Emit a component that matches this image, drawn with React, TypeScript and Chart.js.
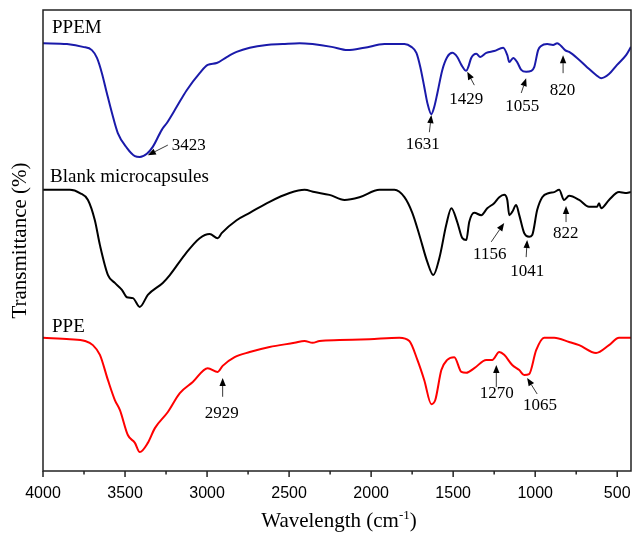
import React, { useEffect, useRef } from 'react';
import { Chart, registerables } from 'chart.js';

Chart.register(...registerables);

// ---- Axis ----
const xMax = 4000;
const xMin = 416;
const majorTicks = [4000, 3500, 3000, 2500, 2000, 1500, 1000, 500];
const minorTicks = [3750, 3250, 2750, 2250, 1750, 1250, 750];

// ---- PPEM (blue) ----
const ppemWn = [4000, 3854, 3757, 3702, 3671, 3641, 3611, 3580, 3544, 3489, 3440, 3410, 3367, 3331, 3276, 3245, 3185, 3124, 3045, 2996, 2941, 2880, 2820, 2740, 2637, 2540, 2436, 2357, 2241, 2144, 2041, 1919, 1797, 1755, 1724, 1700, 1676, 1657, 1633, 1615, 1596, 1566, 1536, 1505, 1475, 1450, 1420, 1408, 1390, 1359, 1335, 1298, 1250, 1195, 1170, 1158, 1134, 1110, 1085, 1055, 1024, 1006, 982, 964, 927, 891, 866, 842, 818, 793, 745, 684, 629, 598, 550, 501, 446, 416];
const ppemT = [92.8, 92.6, 92.0, 91.3, 89.6, 86.3, 82.0, 77.7, 73.3, 70.1, 68.3, 68.1, 68.8, 70.3, 74.0, 75.5, 79.0, 82.6, 86.3, 88.1, 88.5, 89.8, 90.9, 91.8, 92.4, 92.6, 92.8, 92.6, 92.0, 91.3, 91.8, 92.6, 92.6, 92.0, 90.7, 87.6, 83.3, 79.8, 77.4, 79.0, 82.0, 87.0, 89.8, 90.7, 89.8, 88.1, 86.8, 87.6, 89.6, 90.5, 89.8, 90.7, 91.1, 91.8, 90.2, 88.7, 89.6, 88.7, 87.0, 86.6, 86.8, 87.6, 91.3, 92.2, 92.6, 92.4, 92.8, 92.2, 91.3, 90.9, 89.6, 87.6, 85.9, 85.2, 86.1, 88.1, 90.2, 92.0];

// ---- Blank microcapsules (black) ----
const blankWn = [4000, 3836, 3775, 3726, 3684, 3653, 3604, 3562, 3519, 3489, 3452, 3410, 3361, 3270, 3227, 3136, 3045, 2984, 2935, 2911, 2820, 2740, 2619, 2497, 2406, 2345, 2254, 2162, 2071, 1949, 1858, 1797, 1749, 1706, 1657, 1621, 1584, 1542, 1511, 1475, 1444, 1420, 1402, 1371, 1329, 1292, 1250, 1219, 1189, 1170, 1158, 1140, 1116, 1097, 1067, 1037, 1018, 988, 957, 915, 884, 854, 824, 793, 732, 672, 623, 611, 598, 550, 489, 452, 416];
const blankT = [61.0, 61.0, 60.3, 58.8, 54.4, 49.0, 42.5, 40.8, 39.3, 37.7, 37.5, 35.6, 38.2, 40.8, 42.5, 46.9, 50.5, 51.4, 50.5, 51.6, 54.4, 56.0, 58.4, 60.3, 61.0, 60.5, 59.9, 58.8, 59.4, 61.0, 61.0, 59.4, 56.0, 51.2, 45.3, 42.5, 46.2, 53.4, 57.0, 54.0, 50.5, 50.1, 54.0, 56.0, 55.5, 57.0, 58.1, 59.4, 59.9, 58.8, 55.5, 56.2, 57.7, 55.5, 51.6, 50.8, 51.2, 56.6, 59.4, 60.3, 60.5, 61.0, 58.8, 59.7, 58.8, 57.3, 57.3, 58.1, 57.0, 58.8, 60.5, 60.3, 60.5];

// ---- PPE (red) ----
const ppeWn = [4000, 3836, 3744, 3696, 3653, 3604, 3562, 3531, 3483, 3440, 3410, 3361, 3318, 3239, 3166, 3087, 2996, 2935, 2905, 2832, 2740, 2619, 2467, 2406, 2357, 2314, 2193, 2010, 1828, 1767, 1718, 1676, 1633, 1609, 1572, 1536, 1493, 1450, 1420, 1371, 1298, 1262, 1219, 1189, 1140, 1097, 1067, 1037, 994, 945, 884, 793, 732, 629, 550, 489, 416];
const ppeT = [28.9, 28.6, 28.2, 27.3, 25.2, 19.7, 15.4, 13.2, 7.8, 6.1, 4.1, 6.1, 9.3, 12.8, 16.9, 19.3, 22.3, 21.5, 22.8, 24.7, 25.8, 26.9, 27.8, 28.2, 27.8, 28.2, 28.4, 28.6, 28.9, 28.2, 24.1, 19.7, 14.5, 15.4, 21.9, 24.1, 24.7, 21.5, 21.3, 22.3, 24.1, 24.1, 25.8, 25.2, 23.0, 21.9, 20.8, 21.0, 26.2, 28.9, 28.9, 28.0, 27.3, 25.6, 27.3, 28.9, 28.9];

// ---- Series labels ----
const seriesLabels = ['PPEM', 'Blank microcapsules', 'PPE'];
const seriesLabelWn = [3945, 3957, 3945];
const seriesLabelT = [95.0, 62.7, 30.2];

// ---- Peak annotations ----
const peakLabels = ['3423', '1631', '1429', '1055', '820', '1156', '1041', '822', '2929', '1270', '1065'];
const peakTextWn = [3112, 1685, 1420, 1079, 833, 1277, 1049, 814, 2911, 1234, 970];
const peakTextT = [69.6, 69.8, 79.6, 78.1, 81.6, 46.0, 42.3, 50.5, 11.5, 15.8, 13.2];
const arrowTailWn = [3239, 1645, 1371, 1085, 830, 1268, 1055, 812, 2905, 1237, 988];
const arrowTailT = [70.7, 73.5, 83.7, 82.0, 86.3, 49.7, 46.4, 54.0, 16.1, 18.2, 16.7];
const arrowTipWn = [3361, 1633, 1414, 1055, 830, 1189, 1049, 812, 2905, 1237, 1049];
const arrowTipT = [68.5, 77.2, 86.6, 85.2, 90.2, 53.8, 50.1, 57.5, 20.2, 23.0, 20.2];

const SERIF = '"Liberation Serif", "Times New Roman", serif';
const SANS = '"Liberation Sans", Arial, sans-serif';

const toPoints = (xs: number[], ys: number[]) => xs.map((v, i) => ({ x: v, y: ys[i] }));

const decorPlugin = {
  id: 'ftirDecor',
  afterDatasetsDraw(chart: any) {
    const { ctx, chartArea } = chart;
    const xs = chart.scales.x;
    const ys = chart.scales.y;
    ctx.save();

    // frame
    ctx.strokeStyle = '#222';
    ctx.lineWidth = 1.5;
    ctx.strokeRect(chartArea.left, chartArea.top, chartArea.right - chartArea.left, chartArea.bottom - chartArea.top);

    // ticks
    ctx.lineWidth = 1.5;
    const drawTick = (v: number, len: number) => {
      const px = xs.getPixelForValue(v);
      ctx.beginPath();
      ctx.moveTo(px, chartArea.bottom);
      ctx.lineTo(px, chartArea.bottom + len);
      ctx.stroke();
    };
    majorTicks.forEach((v) => drawTick(v, 6));
    minorTicks.forEach((v) => drawTick(v, 3.5));

    // series labels
    ctx.fillStyle = '#000';
    ctx.textBaseline = 'alphabetic';
    ctx.textAlign = 'left';
    ctx.font = `19px ${SERIF}`;
    seriesLabels.forEach((t, i) => {
      ctx.fillText(t, xs.getPixelForValue(seriesLabelWn[i]), ys.getPixelForValue(seriesLabelT[i]));
    });

    // peak labels
    ctx.font = `17px ${SERIF}`;
    ctx.textAlign = 'center';
    peakLabels.forEach((t, i) => {
      ctx.fillText(t, xs.getPixelForValue(peakTextWn[i]), ys.getPixelForValue(peakTextT[i]));
    });

    // arrows
    ctx.strokeStyle = '#222';
    ctx.fillStyle = '#000';
    ctx.lineWidth = 0.9;
    peakLabels.forEach((_, i) => {
      const x0 = xs.getPixelForValue(arrowTailWn[i]);
      const y0 = ys.getPixelForValue(arrowTailT[i]);
      const x1 = xs.getPixelForValue(arrowTipWn[i]);
      const y1 = ys.getPixelForValue(arrowTipT[i]);
      const ang = Math.atan2(y1 - y0, x1 - x0);
      const hl = 8;
      const hw = 3.2;
      const bx = x1 - hl * Math.cos(ang);
      const by = y1 - hl * Math.sin(ang);
      ctx.beginPath();
      ctx.moveTo(x0, y0);
      ctx.lineTo(bx, by);
      ctx.stroke();
      ctx.beginPath();
      ctx.moveTo(x1, y1);
      ctx.lineTo(bx + hw * Math.sin(ang), by - hw * Math.cos(ang));
      ctx.lineTo(bx - hw * Math.sin(ang), by + hw * Math.cos(ang));
      ctx.closePath();
      ctx.fill();
    });

    // x-axis title with superscript
    const main = 'Wavelength (cm';
    const sup = '-1';
    const close = ')';
    ctx.textAlign = 'left';
    ctx.font = `21px ${SERIF}`;
    const wMain = ctx.measureText(main).width;
    const wClose = ctx.measureText(close).width;
    ctx.font = `13px ${SERIF}`;
    const wSup = ctx.measureText(sup).width;
    const total = wMain + wSup + wClose;
    const cx = (chartArea.left + chartArea.right) / 2 + 2;
    let sx = cx - total / 2;
    const base = 527;
    ctx.font = `21px ${SERIF}`;
    ctx.fillText(main, sx, base);
    sx += wMain;
    ctx.font = `13px ${SERIF}`;
    ctx.fillText(sup, sx, base - 8);
    sx += wSup;
    ctx.font = `21px ${SERIF}`;
    ctx.fillText(close, sx, base);

    ctx.restore();
  },
};

export default function App() {
  const canvasRef = useRef<HTMLCanvasElement | null>(null);

  useEffect(() => {
    document.body.style.margin = '0';
    const canvas = canvasRef.current;
    if (!canvas) return;
    const chart = new Chart(canvas, {
      type: 'line',
      data: {
        datasets: [
          {
            label: 'PPEM',
            data: toPoints(ppemWn, ppemT),
            borderColor: '#1a1aaa',
            borderWidth: 2,
            pointRadius: 0,
            fill: false,
            cubicInterpolationMode: 'monotone',
          },
          {
            label: 'Blank microcapsules',
            data: toPoints(blankWn, blankT),
            borderColor: '#000000',
            borderWidth: 2,
            pointRadius: 0,
            fill: false,
            cubicInterpolationMode: 'monotone',
          },
          {
            label: 'PPE',
            data: toPoints(ppeWn, ppeT),
            borderColor: '#ff0000',
            borderWidth: 2,
            pointRadius: 0,
            fill: false,
            cubicInterpolationMode: 'monotone',
          },
        ],
      },
      options: {
        responsive: false,
        animation: false,
        events: [],
        layout: { padding: { top: 10, right: 4, left: 0, bottom: 0 } },
        plugins: {
          legend: { display: false },
          tooltip: { enabled: false },
        },
        scales: {
          x: {
            type: 'linear',
            reverse: true,
            min: xMin,
            max: xMax,
            grid: { display: false },
            border: { display: false },
            afterBuildTicks: (scale: any) => {
              scale.ticks = majorTicks.map((v) => ({ value: v }));
            },
            afterFit: (scale: any) => {
              scale.height = 66;
              scale.paddingLeft = 0;
              scale.paddingRight = 0;
            },
            ticks: {
              autoSkip: false,
              maxRotation: 0,
              padding: 5,
              color: '#000',
              font: { family: SANS, size: 16 },
              callback: (v: any) => String(v),
            },
          },
          y: {
            type: 'linear',
            min: 0,
            max: 100,
            grid: { display: false },
            border: { display: false },
            ticks: { display: false },
            afterFit: (scale: any) => {
              scale.width = 43;
              scale.paddingTop = 0;
              scale.paddingBottom = 0;
            },
            title: {
              display: true,
              text: 'Transmittance (%)',
              color: '#000',
              font: { family: SERIF, size: 21, weight: 'normal' },
              padding: { top: 8, bottom: 0 },
            },
          },
        },
      },
      plugins: [decorPlugin],
    } as any);
    return () => chart.destroy();
  }, []);

  return (
    <div style={{ width: 635, height: 537, background: '#fff' }}>
      <canvas ref={canvasRef} width={635} height={537} style={{ display: 'block' }} />
    </div>
  );
}
